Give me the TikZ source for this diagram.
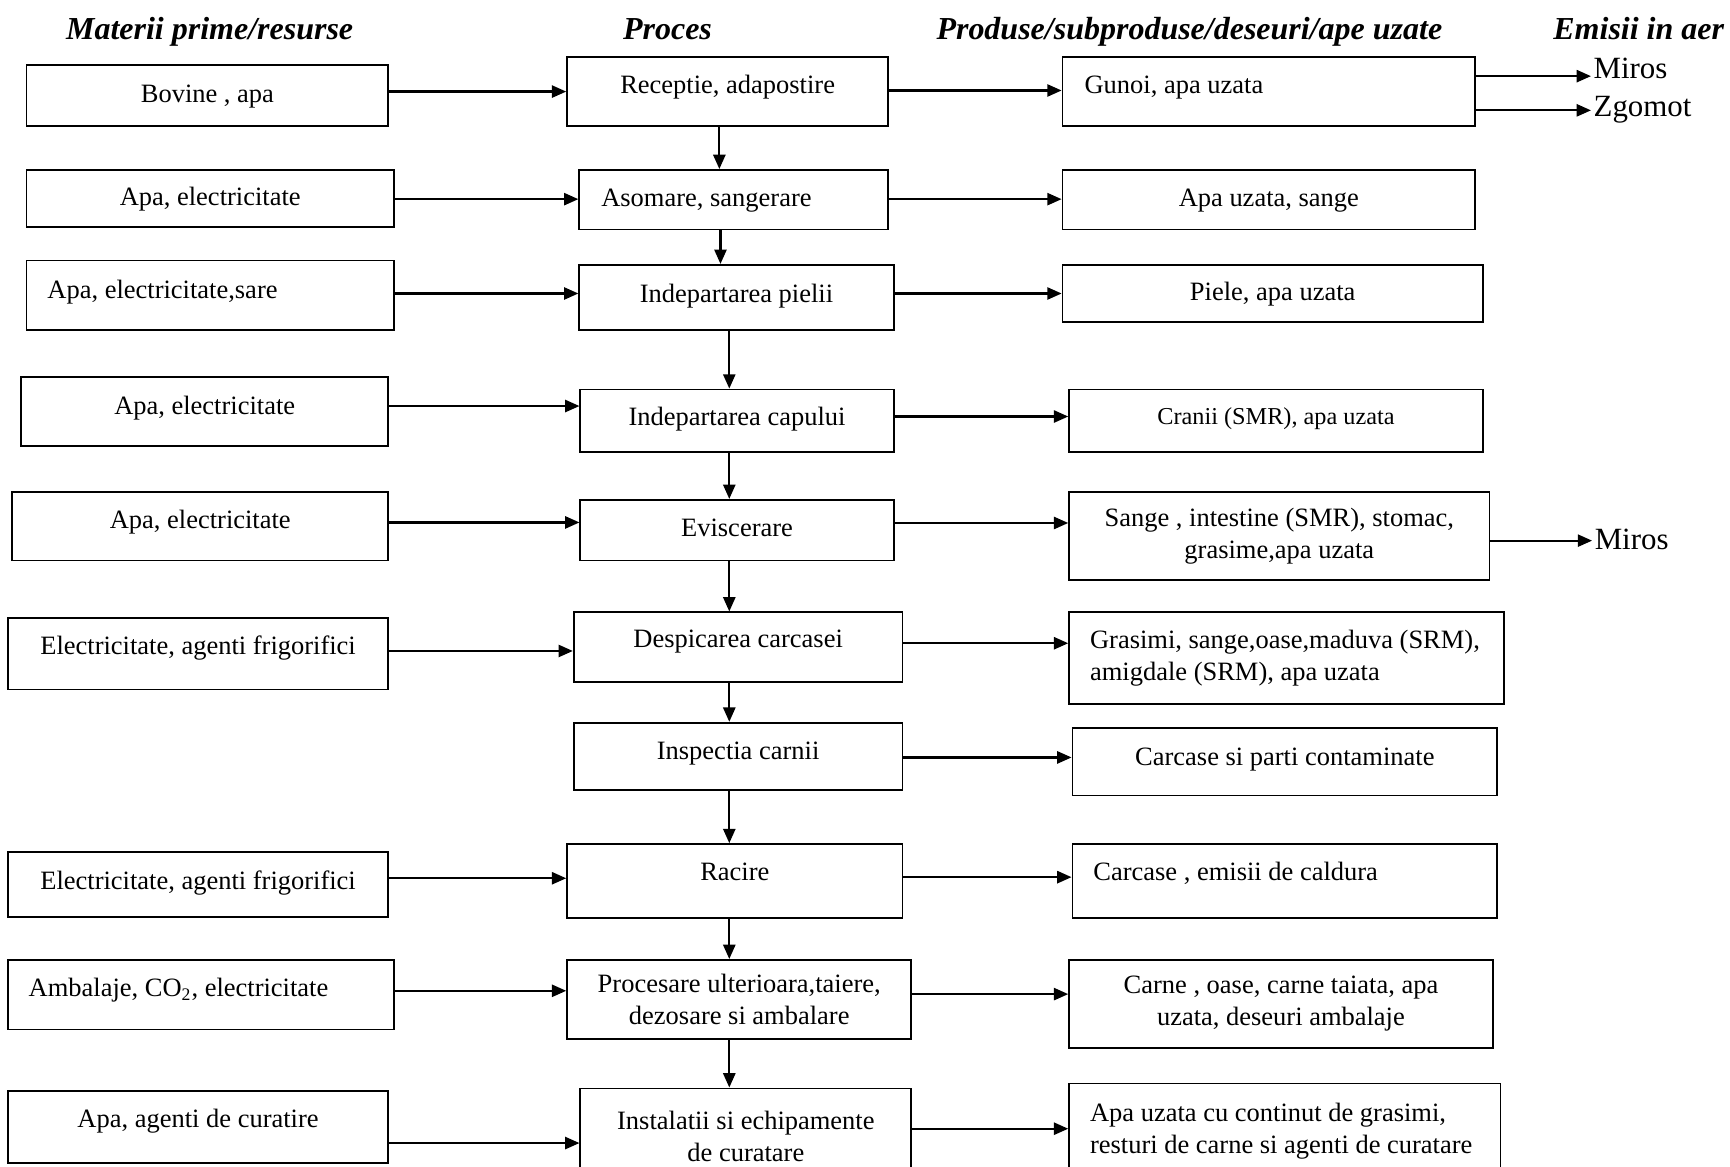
\documentclass[tikz,border=0pt]{standalone}
\usepackage{fontspec}
\setmainfont{Liberation Serif}
\usetikzlibrary{arrows.meta}
\begin{document}
\begin{tikzpicture}[x=0.5pt,y=-0.5pt]
\tikzstyle{cutie}=[draw, line width=0.8pt, inner sep=0, align=center, font=\fontsize{12}{14.5}\selectfont]
\tikzstyle{sageata}=[line width=1pt, -{Triangle[length=6.5pt,width=5.5pt]}]
\tikzstyle{titlu}=[inner sep=0, text height=10pt, text depth=3pt, font=\fontsize{14.5}{16}\selectfont\bfseries\itshape]
\tikzstyle{emisie}=[inner sep=1pt, font=\fontsize{14}{16}\selectfont]
\tikzset{linie/.style={text height=8.5pt, text depth=#1}, linie/.default=2.5pt}
\useasboundingbox (0,0) rectangle (1568,1057);
\node[titlu] (t1) at (190,29) {Materii prime/resurse};
\node[titlu] (t2) at (605,29) {Proces};
\node[titlu] (t3) at (1078,29) {Produse/subproduse/deseuri/ape uzate};
\node[titlu, anchor=east] (t4) at (1563,29) {Emisii in aer};
% materii prime
\node[cutie, linie, minimum width=164pt, minimum height=27.5pt] (l1) at (188,86.5) {Bovine , apa};
\node[cutie, linie, minimum width=166.5pt, minimum height=26pt] (l2) at (190.5,180) {Apa, electricitate};
\node[cutie, linie=5.5pt, minimum width=166.5pt, minimum height=31.5pt, text width=147.5pt, inner xsep=9.5pt, align=flush left] (l3) at (190.5,267.5) {Apa, electricitate,sare};
\node[cutie, linie=5.5pt, minimum width=166.5pt, minimum height=31pt] (l4) at (185.5,373) {Apa, electricitate};
\node[cutie, linie=6.5pt, minimum width=170.5pt, minimum height=31pt] (l5) at (181.5,477) {Apa, electricitate};
\node[cutie, linie=8pt, minimum width=172.5pt, minimum height=32.5pt] (l6) at (179.5,592.5) {Electricitate, agenti frigorifici};
\node[cutie, linie=4pt, minimum width=172.5pt, minimum height=29.5pt] (l7) at (179.5,801.5) {Electricitate, agenti frigorifici};
\node[cutie, linie=7pt, minimum width=175pt, minimum height=31.5pt, text width=156pt, inner xsep=9.5pt, align=flush left] (l8) at (182,901.5) {Ambalaje, CO\textsubscript{2}, electricitate};
\node[cutie, linie=8pt, minimum width=172.5pt, minimum height=32.5pt] (l9) at (179.5,1021.5) {Apa, agenti de curatire};
% proces
\node[cutie, linie=6.5pt, minimum width=145.5pt, minimum height=31pt] (p1) at (659.5,83) {Receptie, adapostire};
\node[cutie, linie, minimum width=140pt, minimum height=27pt, text width=120pt, inner xsep=10pt, align=flush left] (p2) at (665,181) {Asomare, sangerare};
\node[cutie, linie=4pt, minimum width=142.5pt, minimum height=29.5pt] (p3) at (667.5,269.5) {Indepartarea pielii};
\node[cutie, linie=4pt, minimum width=142pt, minimum height=28.5pt] (p4) at (668,381.5) {Indepartarea capului};
\node[cutie, linie=3pt, minimum width=142pt, minimum height=27.5pt] (p5) at (668,480.5) {Eviscerare};
\node[cutie, linie=8pt, minimum width=149pt, minimum height=31.5pt] (p6) at (669,586.5) {Despicarea carcasei};
\node[cutie, linie=6pt, minimum width=149pt, minimum height=30.5pt] (p7) at (669,685.5) {Inspectia carnii};
\node[cutie, linie=9pt, minimum width=152pt, minimum height=33.5pt] (p8) at (666,798.5) {Racire};
\node[cutie, minimum width=156pt, minimum height=36pt] (p9) at (670,906) {Procesare ulterioara,taiere,\\dezosare si ambalare};
\node[cutie, minimum width=150pt, minimum height=43.5pt] (p10) at (676,1030) {Instalatii si echipamente\\de curatare};
% produse
\node[cutie, linie=6.5pt, minimum width=187pt, minimum height=31pt, text width=167pt, inner xsep=10pt, align=flush left] (r1) at (1150,83) {Gunoi, apa uzata};
\node[cutie, linie, minimum width=187pt, minimum height=27pt] (r2) at (1150,181) {Apa uzata, sange};
\node[cutie, linie, minimum width=190.5pt, minimum height=26pt] (r3) at (1153.5,266) {Piele, apa uzata};
\node[cutie, linie=5pt, minimum width=187.5pt, minimum height=28.5pt, font=\fontsize{11}{13}\selectfont] (r4) at (1156.5,381.5) {Cranii (SMR), apa uzata};
\node[cutie, minimum width=190.5pt, minimum height=40pt] (r5) at (1159.5,486) {Sange , intestine (SMR), stomac,\\grasime,apa uzata};
\node[cutie, minimum width=197pt, minimum height=41.5pt, text width=178pt, inner xsep=9.5pt, align=flush left] (r6) at (1166,596.5) {\mbox{Grasimi, sange,oase,maduva (SRM),}\\\mbox{amigdale (SRM), apa uzata}};
\node[cutie, linie=5pt, minimum width=192.5pt, minimum height=30.5pt] (r7) at (1164.5,690.5) {Carcase si parti contaminate};
\node[cutie, linie=9pt, minimum width=192.5pt, minimum height=33.5pt, text width=173.5pt, inner xsep=9.5pt, align=flush left] (r8) at (1164.5,798.5) {Carcase , emisii de caldura};
\node[cutie, minimum width=192pt, minimum height=40pt] (r9) at (1161,910) {Carne , oase, carne taiata, apa\\uzata, deseuri ambalaje};
\node[cutie, minimum width=195.5pt, minimum height=43pt, text width=176.5pt, inner xsep=9.5pt, align=flush left] (r10) at (1164.5,1025) {\mbox{Apa uzata cu continut de grasimi,}\\\mbox{resturi de carne si agenti de curatare}};
% emisii
\node[emisie, anchor=west] (e1) at (1442,62) {Miros};
\node[emisie, anchor=west] (e2) at (1442,99) {Zgomot};
\node[emisie, anchor=west] (e3) at (1443,489) {Miros};
\foreach \a/\b/\y in {l1/p1/83, l2/p2/180.5, l3/p3/266, l4/p4/368, l5/p5/473.5, l6/p6/590, l7/p8/796, l8/p9/898, l9/p10/1036}
\draw[sageata] (\a.east |- 0,\y) -- (\b.west |- 0,\y);
\foreach \a/\b/\y in {p1/r1/82, p2/r2/180.5, p3/r3/266, p4/r4/377.5, p5/r5/474, p6/r6/583, p7/r7/686.5, p8/r8/795, p9/r9/901, p10/r10/1023}
\draw[sageata] (\a.east |- 0,\y) -- (\b.west |- 0,\y);
\foreach \a/\b/\x in {p1/p2/652, p2/p3/653, p3/p4/661, p4/p5/661, p5/p6/661, p6/p7/661, p7/p8/661, p8/p9/661, p9/p10/661}
\draw[sageata] (\a.south -| \x,0) -- (\b.north -| \x,0);
\draw[sageata] (r1.east |- 0,69) -- (e1.west |- 0,69);
\draw[sageata] (r1.east |- 0,100) -- (e2.west |- 0,100);
\draw[sageata] (r5.east |- 0,490) -- (e3.west |- 0,490);
\end{tikzpicture}
\end{document}
